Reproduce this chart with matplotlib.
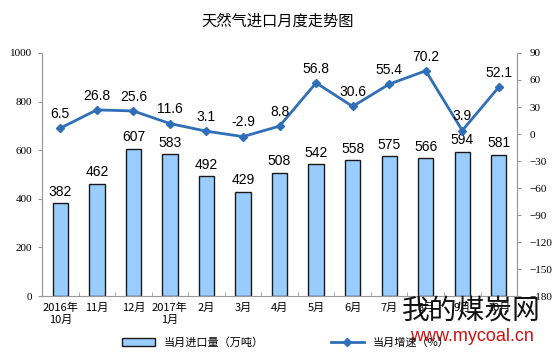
import matplotlib
matplotlib.use("Agg")
import matplotlib.pyplot as plt
import numpy as np

plt.rcParams["font.family"] = ["Noto Sans CJK SC", "DejaVu Sans"]

months = ["2016年\n10月", "11月", "12月", "2017年\n1月", "2月", "3月", "4月",
          "5月", "6月", "7月", "8月", "9月", "10月"]
imports = [382, 462, 607, 583, 492, 429, 508, 542, 558, 575, 566, 594, 581]
growth = [6.5, 26.8, 25.6, 11.6, 3.1, -2.9, 8.8, 56.8, 30.6, 55.4, 70.2, 3.9, 52.1]

fig = plt.figure(figsize=(5.55, 3.58), dpi=100)
ax = fig.add_axes([0.0757, 0.173, 0.856, 0.679])
ax2 = ax.twinx()

x = np.arange(len(months))
ax.bar(x, imports, width=0.42, color="#99CCFF", edgecolor="#1a1a1a", linewidth=1.0,
       label="当月进口量（万吨）", zorder=2)
for xi, v in zip(x, imports):
    ax.text(xi, v + 18, str(v), ha="center", va="bottom", fontsize=10,
            family="Liberation Sans")

ax2.plot(x, growth, color="#2F6FB8", linewidth=2, marker="D", markersize=4,
         label="当月增速（%）", zorder=3)
for xi, v in zip(x, growth):
    ax2.text(xi, v + 8, f"{v}", ha="center", va="bottom", fontsize=10,
             family="Liberation Sans")

ax.set_xlim(-0.5, len(months) - 0.5)
ax.set_ylim(0, 1000)
ax.set_yticks(range(0, 1001, 200))
ax2.set_ylim(-180, 90)
ax2.set_yticks(range(-180, 91, 30))

ax.set_xticks(x)
ax.set_xticklabels(months, fontsize=8)
ax.set_xticks(np.arange(-0.5, len(months), 1), minor=True)
ax.tick_params(axis="x", which="major", length=0, pad=5)
ax.tick_params(axis="x", which="minor", length=3, color="#999999", direction="in")
ax.tick_params(axis="y", length=3, color="#999999", labelsize=8, pad=4)
ax2.tick_params(axis="y", length=3, color="#999999", labelsize=8, pad=6)
for t in ax.get_yticklabels() + ax2.get_yticklabels():
    t.set_family("Liberation Serif")

for a in (ax, ax2):
    a.spines["top"].set_visible(False)
    for s in ("left", "right", "bottom"):
        a.spines[s].set_color("#999999")
ax2.spines["bottom"].set_visible(False)

fig.suptitle("天然气进口月度走势图", y=0.965, fontsize=11)

h1, l1 = ax.get_legend_handles_labels()
h2, l2 = ax2.get_legend_handles_labels()
fig.legend(h1 + h2, l1 + l2, loc="lower center", bbox_to_anchor=(0.515, 0.0),
           ncol=2, frameon=False, fontsize=8, columnspacing=6, handlelength=3)

# site watermark
fig.text(0.85, 0.134, "我的煤炭网", fontsize=20, color="#111111", ha="center", va="center")
fig.text(0.85, 0.059, "www.mycoal.cn", fontsize=13, color="#cc1111", ha="center",
         va="center", family="Liberation Sans")

fig.savefig("out.png", dpi=100)
